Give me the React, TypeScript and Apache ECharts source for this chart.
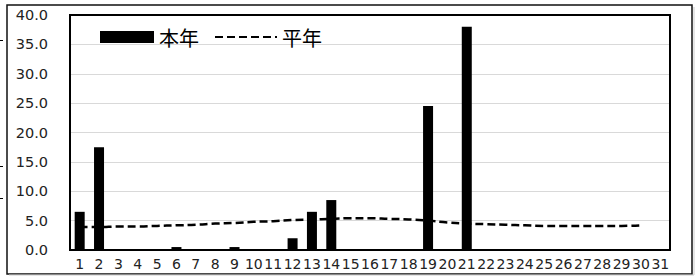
import React, { useEffect, useRef } from "react";
import * as echarts from "echarts";

const days: string[] = Array.from({ length: 31 }, (_, i) => String(i + 1));
const thisYear: (number | null)[] = [
  6.5, 17.5, 0, 0, 0, 0.5, 0, 0, 0.5, 0, 0, 2.0, 6.5, 8.5, 0, 0, 0, 0, 24.5, 0, 38.0,
  0, 0, 0, 0, 0, 0, 0, 0, 0, 0,
];
const normalYear: (number | null)[] = [
  3.9, 3.9, 4.0, 4.0, 4.1, 4.2, 4.3, 4.5, 4.6, 4.8, 4.9, 5.1, 5.2, 5.3, 5.4, 5.4, 5.3,
  5.2, 5.0, 4.7, 4.5, 4.4, 4.3, 4.2, 4.1, 4.1, 4.1, 4.1, 4.1, 4.2, null,
];
const seriesNames = ["本年", "平年"];

export default function App() {
  const ref = useRef<HTMLDivElement>(null);
  useEffect(() => {
    if (!ref.current) return;
    const chart = echarts.init(ref.current, undefined, { renderer: "svg" });
    const bar = (id: string, x: number, y: number, w: number, h: number, c = "#000") => ({
      id,
      type: "rect",
      shape: { x, y, width: w, height: h },
      style: { fill: c },
      silent: true,
      z: 100,
    });
    const legendText = { fontFamily: "Noto Sans CJK JP", fontSize: 20, color: "#000" };
    chart.setOption({
      animation: false,
      backgroundColor: "#fff",
      textStyle: { fontFamily: "DejaVu Sans" },
      grid: { left: 70, top: 15, right: 26, bottom: 26, containLabel: false },
      legend: [
        {
          left: 95,
          top: 22,
          itemWidth: 54,
          itemHeight: 12,
          textStyle: legendText,
          data: [{ name: seriesNames[0], icon: "rect" }],
        },
        {
          left: 209,
          top: 22,
          itemWidth: 62,
          itemHeight: 12,
          textStyle: legendText,
          data: [{ name: seriesNames[1], itemStyle: { opacity: 0 } }],
        },
      ],
      xAxis: {
        type: "category",
        data: days,
        axisLine: { show: true, lineStyle: { color: "#000", width: 1.5 } },
        axisTick: { show: false },
        axisLabel: {
          interval: 0,
          margin: 7,
          fontSize: 14,
          color: "#222",
          fontFamily: "DejaVu Sans",
        },
      },
      yAxis: {
        type: "value",
        min: 0,
        max: 40,
        interval: 5,
        axisLine: { show: false },
        axisTick: { show: false },
        splitLine: { lineStyle: { color: "#d9d9d9", width: 1 } },
        axisLabel: {
          margin: 22,
          fontSize: 14.5,
          color: "#222",
          fontFamily: "DejaVu Sans",
          formatter: (v: number) => v.toFixed(1),
        },
      },
      series: [
        {
          name: seriesNames[0],
          type: "bar",
          data: thisYear,
          barWidth: 10,
          itemStyle: { color: "#000" },
        },
        {
          name: seriesNames[1],
          type: "line",
          data: normalYear,
          symbol: "none",
          smooth: true,
          lineStyle: { color: "#000", width: 2.5, type: [8, 4] },
          itemStyle: { color: "#000" },
          z: 3,
        },
      ],
      graphic: [
        {
          id: "outer",
          type: "rect",
          shape: { x: 7, y: 5, width: 685, height: 269 },
          style: { fill: "none", stroke: "#111", lineWidth: 1.5 },
          silent: true,
        },
        bar("frameL", 69, 14, 2, 237),
        bar("frameR", 669, 14, 2, 237),
        bar("frameT", 69, 14, 602, 2),
        bar("frameB", 69, 249, 602, 2),
        {
          id: "shadowB",
          type: "line",
          shape: { x1: 9, y1: 275, x2: 694, y2: 275 },
          style: { stroke: "#ccc", lineWidth: 1 },
          silent: true,
        },
        {
          id: "shadowR",
          type: "line",
          shape: { x1: 694, y1: 7, x2: 694, y2: 275 },
          style: { stroke: "#ccc", lineWidth: 1 },
          silent: true,
        },
        bar("m1", 0, 40, 3, 1),
        bar("m2", 0, 166, 3, 1),
        bar("m3", 0, 198, 3, 1),
      ],
    });
    return () => chart.dispose();
  }, []);
  return (
    <div
      ref={ref}
      style={{ position: "fixed", left: 0, top: 0, width: 696, height: 276 }}
    />
  );
}
